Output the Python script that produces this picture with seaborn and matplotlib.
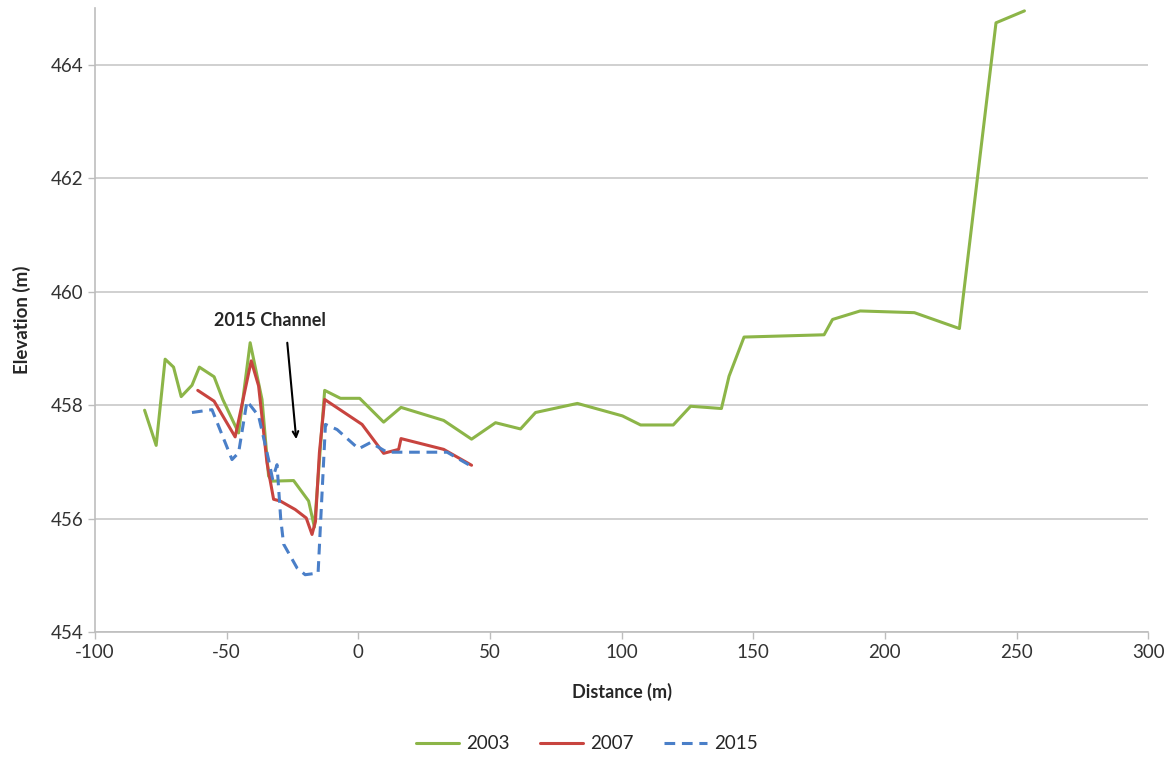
import pandas as pd
import numpy as np
import seaborn as sns
import matplotlib.pyplot as plt

# cross-section profiles
dist_2003 = [-81.2, -76.8, -73.4, -70.2, -67.3, -63.2, -60.4, -54.8, -51.5, -45.5,
             -41.1, -36.6, -34.1, -32.8, -24.6, -18.9, -16.7, -12.8, -6.8, 0.5,
             9.6, 16.2, 32.4, 43.0, 52.1, 61.6, 67.3, 83.2, 100.3, 107.2,
             119.6, 126.2, 137.9, 140.8, 146.5, 176.9, 180.1, 190.6, 211.2, 228.3,
             242.2, 253.0]
elev_2003 = [457.91, 457.29, 458.81, 458.67, 458.15, 458.35, 458.67, 458.50, 458.10, 457.51,
             459.10, 458.10, 456.75, 456.66, 456.67, 456.31, 455.85, 458.26, 458.12, 458.12,
             457.70, 457.96, 457.73, 457.40, 457.69, 457.58, 457.87, 458.03, 457.81, 457.65,
             457.65, 457.98, 457.94, 458.51, 459.20, 459.24, 459.51, 459.66, 459.63, 459.35,
             464.74, 464.95]

dist_2007 = [-61.0, -54.8, -46.8, -40.7, -37.9, -34.7, -32.2, -29.7, -24.0, -19.8,
             -17.6, -16.3, -14.8, -12.8, 1.4, 9.6, 15.3, 16.2, 32.4, 43.0]
elev_2007 = [458.26, 458.07, 457.44, 458.78, 458.34, 456.98, 456.34, 456.31, 456.16, 456.01,
             455.72, 455.95, 457.16, 458.10, 457.66, 457.15, 457.22, 457.41, 457.22, 456.94]

dist_2015 = [-63.2, -55.6, -48.0, -45.5, -42.3, -37.9, -34.1, -32.6, -30.9, -29.5,
             -28.4, -23.3, -20.2, -15.3, -12.5, -8.1, 0.1, 4.6, 10.9, 33.7, 43.0]
elev_2015 = [457.87, 457.92, 457.04, 457.16, 458.07, 457.81, 457.04, 456.70, 456.95, 456.00,
             455.55, 455.13, 455.01, 455.04, 457.66, 457.57, 457.23, 457.34, 457.17, 457.17, 456.92]

series = [('2003', dist_2003, elev_2003, '#8cb548', ''),
          ('2007', dist_2007, elev_2007, '#c8443f', ''),
          ('2015', dist_2015, elev_2015, '#4a7fc8', (3.5, 2.2))]

sns.set_style('white')
plt.rcParams['font.family'] = ['Lato', 'DejaVu Sans']
plt.rcParams['axes.unicode_minus'] = False

fig = plt.figure(figsize=(11.74, 7.6), dpi=100)
ax = fig.add_axes([0.081, 0.1684, 0.897, 0.821])

for name, xs, ys, col, dash in series:
    df = pd.DataFrame({'Distance': xs, 'Elevation': ys})
    sns.lineplot(x='Distance', y='Elevation', data=df, sort=False, color=col,
                 linewidth=2.2, label=name, ax=ax)
    if dash:
        ax.lines[-1].set_dashes(dash)

ax.set_xlim(-100, 300)
ax.set_ylim(454, 465)
ax.set_xticks(range(-100, 301, 50))
ax.set_yticks(range(454, 465, 2))
ax.yaxis.grid(True, color='#c8c8c8', linewidth=1.2)
ax.xaxis.grid(False)
for s in ['top', 'right']:
    ax.spines[s].set_visible(False)
for s in ['left', 'bottom']:
    ax.spines[s].set_color('#bdbdbd')
    ax.spines[s].set_linewidth(1.2)
ax.tick_params(axis='both', labelsize=13.5, labelcolor='#333333', length=5, width=1.0,
               direction='out', bottom=True, left=True, color='#bdbdbd')
ax.set_xlabel('Distance (m)', fontsize=13, fontweight='bold', labelpad=16)
ax.set_ylabel('Elevation (m)', fontsize=13.5, fontweight='bold', labelpad=14)

# label and arrow for the 2015 channel
ax.text(-33.5, 459.5, '2015 Channel', fontsize=13, fontweight='bold', ha='center', va='center')
ax.annotate('', xy=(-23.6, 457.40), xytext=(-27.0, 459.1),
            arrowprops=dict(arrowstyle='->', color='black', lw=1.5, shrinkA=0, shrinkB=0))

handles, labels = ax.get_legend_handles_labels()
ax.get_legend().remove()
fig.legend(handles, labels, loc='lower center', ncol=3, frameon=False, fontsize=13.5,
           handlelength=2.3, handletextpad=0.4, columnspacing=1.6,
           bbox_to_anchor=(0.5, -0.012))

fig.savefig('out.png', dpi=100)
